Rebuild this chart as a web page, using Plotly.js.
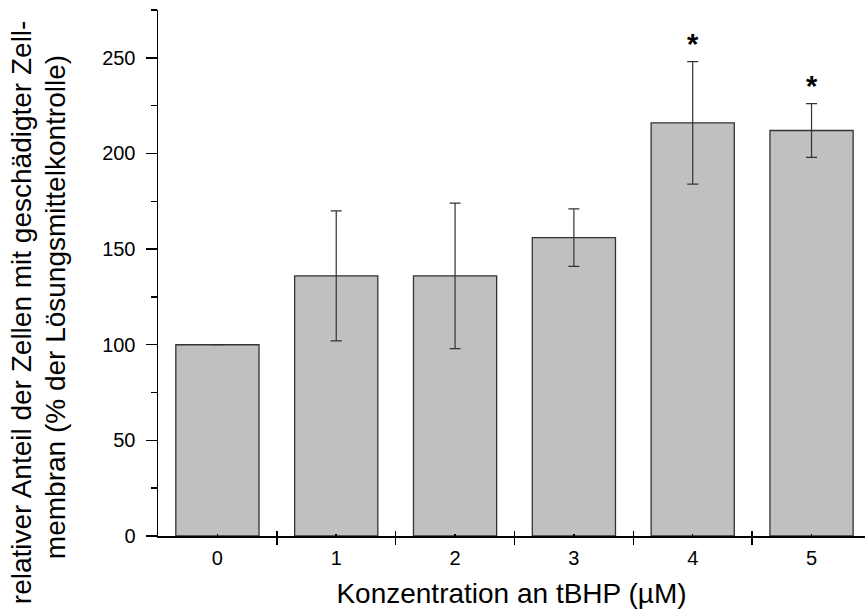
<!DOCTYPE html>
<html>
<head>
<meta charset="utf-8">
<script src="https://cdn.plot.ly/plotly-3.0.1.min.js"></script>
<style>html,body{margin:0;padding:0;background:#fff;}#chart{width:865px;height:614px;}</style>
</head>
<body>
<div id="chart"></div>
<script>
// Data
const categories = ["0", "1", "2", "3", "4", "5"];
const values = [100, 136, 136, 156, 216, 212];
const errors = [0, 34, 38, 15, 32, 14];
const significant = [false, false, false, false, true, true];
const yTickValues = [0, 50, 100, 150, 200, 250];
const xTitle = "Konzentration an tBHP (µM)";
const yTitleLines = ["relativer Anteil der Zellen mit geschädigter Zell-", "membran (% der Lösungsmittelkontrolle)"];

const xs = categories.map((c, i) => i);
const boundaries = categories.map((c, i) => i - 0.5);
const FONT = "Liberation Sans, Arial, sans-serif";

const bar = {
  type: "bar",
  x: xs,
  y: values,
  width: 0.7,
  marker: { color: "#c0c0c0", line: { color: "#333333", width: 1.3 } },
  error_y: { type: "data", array: errors, visible: true, color: "#333333", thickness: 1.2, width: 5.5 },
  hoverinfo: "skip"
};
const ghost = { type: "scatter", x: [], y: [], xaxis: "x2", yaxis: "y", hoverinfo: "skip", showlegend: false };

const annotations = [];
xs.forEach((x, i) => {
  if (significant[i]) {
    annotations.push({
      x: x, y: values[i] + errors[i], xref: "x", yref: "y",
      text: "<b>*</b>", showarrow: false, xanchor: "center", yanchor: "middle", yshift: 18,
      font: { family: FONT, size: 29, color: "#000" }
    });
  }
});
annotations.push({
  x: -0.192, y: 0.426, xref: "paper", yref: "paper", text: yTitleLines[0], showarrow: false,
  textangle: -90, xanchor: "center", yanchor: "middle", font: { family: FONT, size: 28, color: "#000" }
});
annotations.push({
  x: -0.145, y: 0.436, xref: "paper", yref: "paper", text: yTitleLines[1], showarrow: false,
  textangle: -90, xanchor: "center", yanchor: "middle", font: { family: FONT, size: 28, color: "#000" }
});

const layout = {
  width: 865, height: 614,
  margin: { l: 158, r: 0, t: 10, b: 78 },
  paper_bgcolor: "#fff", plot_bgcolor: "#fff",
  showlegend: false,
  font: { family: FONT, color: "#000" },
  xaxis: {
    type: "linear", range: [-0.5, 5.45], fixedrange: true,
    tickmode: "array", tickvals: xs, ticktext: categories,
    ticks: "inside", ticklen: 2, tickwidth: 1.5, tickcolor: "#000",
    tickfont: { family: FONT, size: 20, color: "#000" },
    ticklabelstandoff: 3,
    showline: true, linecolor: "#000", linewidth: 1.5,
    showgrid: false, zeroline: false,
    minor: { tickmode: "array", tickvals: boundaries, ticks: "outside", ticklen: 7, tickwidth: 1.5, tickcolor: "#000", showgrid: false },
    title: { text: xTitle, font: { family: FONT, size: 28, color: "#000" }, standoff: 16 }
  },
  xaxis2: {
    type: "linear", range: [-0.5, 5.45], overlaying: "x", anchor: "y", side: "bottom",
    tickmode: "array", tickvals: boundaries, ticks: "inside", ticklen: 5, tickwidth: 1.5, tickcolor: "#000",
    showticklabels: false, showline: false, showgrid: false, zeroline: false
  },
  yaxis: {
    range: [0, 275], fixedrange: true,
    tickmode: "array", tickvals: yTickValues,
    ticks: "outside", ticklen: 11, tickwidth: 1.5, tickcolor: "#000",
    tickfont: { family: FONT, size: 20, color: "#000" },
    ticklabelstandoff: 6,
    showline: true, linecolor: "#000", linewidth: 1.5,
    showgrid: false, zeroline: false,
    minor: { dtick: 25, tick0: 0, ticks: "outside", ticklen: 6, tickwidth: 1.5, tickcolor: "#000", showgrid: false }
  },
  annotations: annotations
};

Plotly.newPlot("chart", [bar, ghost], layout, { displayModeBar: false, staticPlot: true });
</script>
</body>
</html>
